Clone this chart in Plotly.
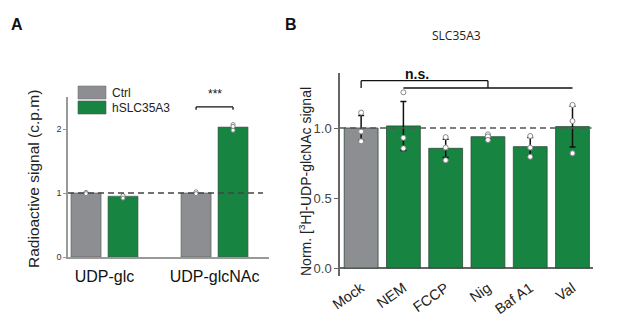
import plotly.graph_objects as go

# ---------------- Data ----------------
# Panel A
a_categories = ["UDP-glc", "UDP-glcNAc"]
a_series = ["Ctrl", "hSLC35A3"]
a_ctrl = [1.0, 1.0]
a_hslc = [0.95, 2.03]
a_ctrl_err = [0.01, 0.015]
a_hslc_err = [0.02, 0.04]
a_ctrl_pts = [[1.01, 0.99], [1.02, 0.99]]
a_hslc_pts = [[0.96, 0.92], [2.07, 1.98, 2.04]]

# Panel B
b_categories = ["Mock", "NEM", "FCCP", "Nig", "Baf A1", "Val"]
b_values = [1.0, 1.015, 0.855, 0.938, 0.867, 1.01]
b_err = [0.09, 0.175, 0.065, 0.012, 0.065, 0.145]
b_pts = [
    [1.11, 0.975, 0.905],
    [1.255, 0.93, 0.855],
    [0.935, 0.86, 0.77],
    [0.955, 0.94, 0.915],
    [0.943, 0.86, 0.795],
    [1.165, 1.05, 0.82],
]
b_colors = ["#8d8e91", "#178442", "#178442", "#178442", "#178442", "#178442"]

GRAY = "#8d8e91"
GREEN = "#178442"
FONT = "Liberation Sans, Arial, sans-serif"

fig = go.Figure()

# ---------------- Panel A ----------------
a_x = list(range(len(a_categories)))
a_off = 0.168
a_w = 0.273
for vals, errs, pts, col, sign, name in [
    (a_ctrl, a_ctrl_err, a_ctrl_pts, GRAY, -1, a_series[0]),
    (a_hslc, a_hslc_err, a_hslc_pts, GREEN, 1, a_series[1]),
]:
    xs = [x + sign * a_off for x in a_x]
    fig.add_trace(go.Bar(
        x=xs, y=vals, width=a_w, name=name, marker_color=col,
        marker_line=dict(color="#555555", width=0.6),
        error_y=dict(type="data", array=errs, color="#222222", thickness=1.2, width=2),
        xaxis="x", yaxis="y", showlegend=False,
    ))
    px, py = [], []
    for x, p in zip(xs, pts):
        for v in p:
            px.append(x)
            py.append(v)
    fig.add_trace(go.Scatter(
        x=px, y=py, mode="markers", xaxis="x", yaxis="y", showlegend=False,
        marker=dict(size=4, color="white", line=dict(color="#888888", width=1)),
    ))

# dashed reference line A
fig.add_trace(go.Scatter(
    x=[-0.332, 1.44], y=[1, 1], mode="lines", xaxis="x", yaxis="y", showlegend=False,
    line=dict(color="#444444", width=1.3, dash="6px,4px"),
))

# ---------------- Panel B ----------------
b_x = list(range(len(b_categories)))
fig.add_trace(go.Bar(
    x=b_x, y=b_values, width=0.8, marker_color=b_colors,
    marker_line=dict(color="#2d4a36", width=0.8),
    error_y=dict(type="data", array=b_err, color="#111111", thickness=1.5, width=3),
    xaxis="x2", yaxis="y2", showlegend=False,
))
bpx, bpy = [], []
for x, p in zip(b_x, b_pts):
    for v in p:
        bpx.append(x)
        bpy.append(v)
fig.add_trace(go.Scatter(
    x=bpx, y=bpy, mode="markers", xaxis="x2", yaxis="y2", showlegend=False,
    marker=dict(size=5, color="white", line=dict(color="#888888", width=1)),
))
fig.add_trace(go.Scatter(
    x=[-0.5, 5.45], y=[1, 1], mode="lines", xaxis="x2", yaxis="y2", showlegend=False,
    line=dict(color="#555555", width=1.3, dash="6px,4px"),
))

# ---------------- Layout ----------------
fig.update_layout(
    width=617, height=324,
    margin=dict(l=0, r=0, t=0, b=0),
    paper_bgcolor="white", plot_bgcolor="white",
    font=dict(family=FONT, color="#222222"),
    showlegend=False,
    xaxis=dict(
        domain=[68 / 617, 269 / 617], range=[-0.332, 1.495],
        tickvals=a_x, ticktext=a_categories,
        tickfont=dict(size=16, color="#111111"),
        showline=True, linecolor="#999999", linewidth=1.5,
        ticks="outside", ticklen=4, tickcolor="rgba(0,0,0,0)",
        showgrid=False, zeroline=False, anchor="y", automargin=False,
    ),
    yaxis=dict(
        domain=[1 - 257 / 324, 1 - 97 / 324], range=[0, 2.5],
        tickvals=[0, 1, 2], tickfont=dict(size=9, color="#333333"),
        showline=True, linecolor="#999999", linewidth=1.5,
        ticks="outside", ticklen=3, tickcolor="#999999",
        showgrid=False, zeroline=False, anchor="x", automargin=False,
    ),
    xaxis2=dict(
        domain=[340 / 617, 593 / 617], range=[-0.5, 5.485],
        tickvals=b_x, ticktext=b_categories, tickangle=-35,
        tickfont=dict(size=14.5, color="#222222"),
        showline=False, ticks="", showgrid=False, zeroline=False, anchor="y2",
        automargin=False,
    ),
    yaxis2=dict(
        domain=[1 - 276 / 324, 1 - 73 / 324], range=[-0.057, 1.393],
        tickvals=[0, 0.5, 1.0], ticktext=["0.0", "0.5", "1.0"],
        tickfont=dict(size=13, color="#444444"),
        showline=True, linecolor="#666666", linewidth=1.5,
        ticks="outside", ticklen=4, tickcolor="#666666",
        showgrid=False, zeroline=True, zerolinecolor="#666666", zerolinewidth=1.5,
        anchor="x2", automargin=False,
    ),
)

shapes = []
# legend swatches (panel A)
shapes.append(dict(type="rect", xref="paper", yref="paper",
                   x0=78 / 617, x1=106 / 617, y0=1 - 99 / 324, y1=1 - 86 / 324,
                   fillcolor=GRAY, line=dict(color="#777777", width=0.6)))
shapes.append(dict(type="rect", xref="paper", yref="paper",
                   x0=78 / 617, x1=106 / 617, y0=1 - 114 / 324, y1=1 - 101 / 324,
                   fillcolor=GREEN, line=dict(color="#555555", width=0.6)))
# significance bracket A (between the two UDP-glcNAc bars)
ax0, ax1 = 1 - a_off, 1 + a_off
for seg in [(ax0, 2.30, ax0, 2.345), (ax0, 2.345, ax1, 2.345), (ax1, 2.345, ax1, 2.30)]:
    shapes.append(dict(type="line", xref="x", yref="y", x0=seg[0], y0=seg[1], x1=seg[2], y1=seg[3],
                       line=dict(color="#111111", width=1.3)))
# n.s. bracket B
for seg in [(0, 1.286, 0, 1.338), (0, 1.338, 3, 1.338), (3, 1.338, 3, 1.286), (1, 1.286, 5, 1.286)]:
    shapes.append(dict(type="line", xref="x2", yref="y2", x0=seg[0], y0=seg[1], x1=seg[2], y1=seg[3],
                       line=dict(color="#111111", width=1.3)))
fig.update_layout(shapes=shapes)

ann = [
    dict(text="<b>A</b>", x=17 / 617, y=1 - 24 / 324, xref="paper", yref="paper",
         showarrow=False, font=dict(size=16, color="#111111"), xanchor="center", yanchor="middle"),
    dict(text="<b>B</b>", x=291 / 617, y=1 - 24 / 324, xref="paper", yref="paper",
         showarrow=False, font=dict(size=16, color="#111111"), xanchor="center", yanchor="middle"),
    dict(text=a_series[0], x=110 / 617, y=1 - 92.5 / 324, xref="paper", yref="paper",
         showarrow=False, font=dict(size=12, color="#222222"), xanchor="left", yanchor="middle"),
    dict(text=a_series[1], x=110 / 617, y=1 - 107.5 / 324, xref="paper", yref="paper",
         showarrow=False, font=dict(size=12, color="#222222"), xanchor="left", yanchor="middle"),
    dict(text="Radioactive signal (c.p.m)", x=33 / 617, y=1 - 179 / 324, xref="paper", yref="paper",
         showarrow=False, textangle=-90, font=dict(size=15.5, color="#222222"),
         xanchor="center", yanchor="middle"),
    dict(text="***", x=1, y=2.40, xref="x", yref="y", showarrow=False,
         font=dict(size=12, color="#111111"), xanchor="center", yanchor="bottom"),
    dict(text="SLC35A3", x=456 / 617, y=1 - 35 / 324, xref="paper", yref="paper",
         showarrow=False, font=dict(size=12, color="#222222", family="Open Sans, sans-serif"),
         xanchor="center", yanchor="middle"),
    dict(text="Norm. [<sup>3</sup>H]-UDP-glcNAc signal", x=305 / 617, y=1 - 182 / 324,
         xref="paper", yref="paper", showarrow=False, textangle=-90,
         font=dict(size=14, color="#222222"), xanchor="center", yanchor="middle"),
    dict(text="<b>n.s.</b>", x=417 / 617, y=1 - 73.5 / 324, xref="paper", yref="paper",
         showarrow=False, font=dict(size=14, color="#111111"), xanchor="center", yanchor="middle"),
]
fig.update_layout(annotations=ann)

fig.write_html(
    "out.html",
    config={"displayModeBar": False},
    post_script="document.body.style.margin='0';document.body.style.overflow='hidden';",
)
